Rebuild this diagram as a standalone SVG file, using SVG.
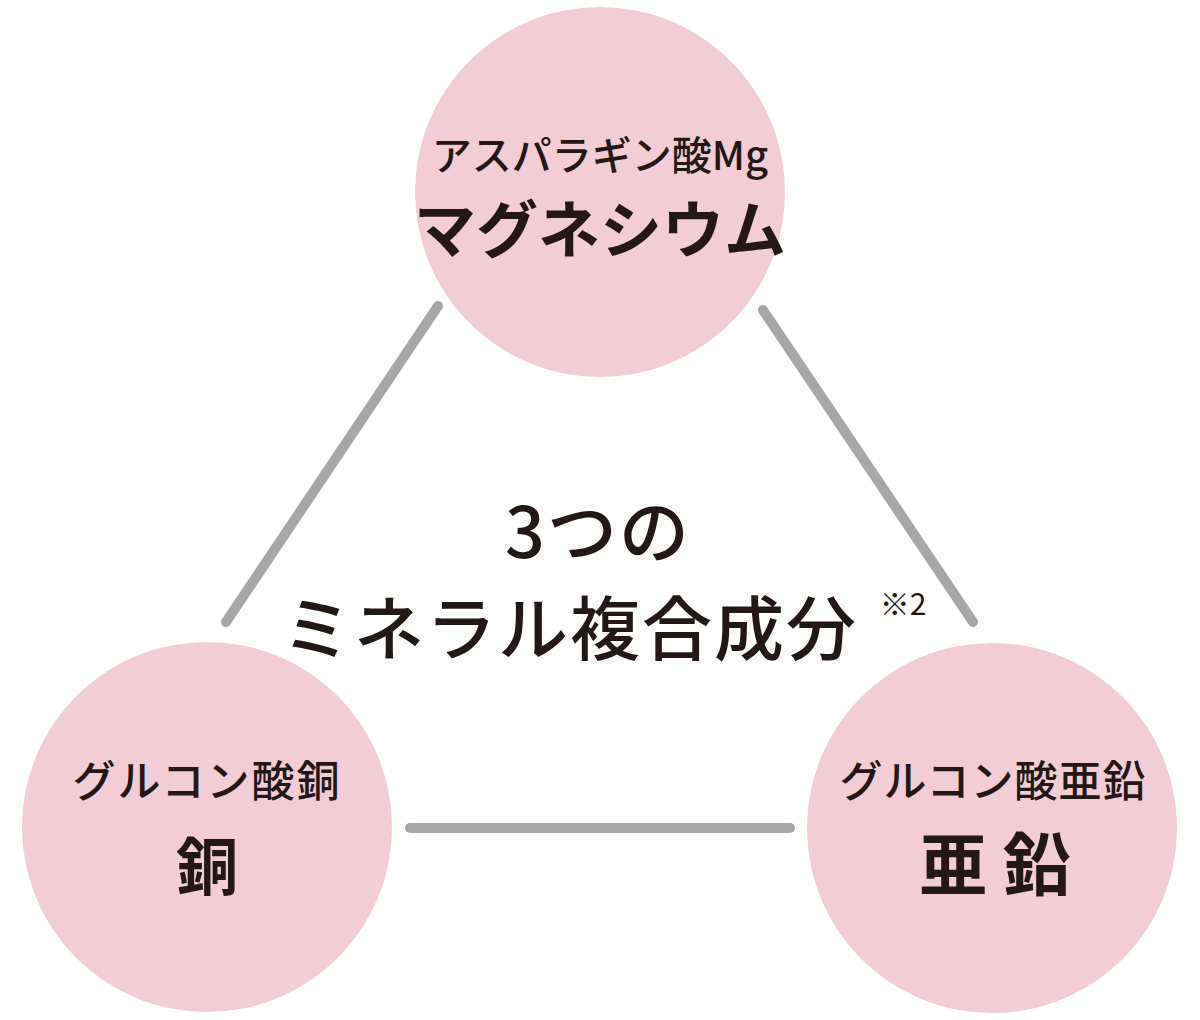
<svg xmlns="http://www.w3.org/2000/svg" width="1200" height="1020" viewBox="0 0 1200 1020">
<style>
.n{fill:#f2cdd6}
.c{stroke:#a7a7a7;stroke-width:10;stroke-linecap:round;fill:none}
text{font-family:"Noto Sans CJK JP","Noto Sans",sans-serif;fill:#231815;text-anchor:middle}
.s{font-size:43px;font-weight:500}
.b{font-size:62px;font-weight:700}
.m{font-size:70px;font-weight:500}
</style>
<rect width="1200" height="1020" fill="#fff"/>
<g id="connectors">
<line class="c" x1="438" y1="306" x2="226" y2="622"/>
<line class="c" x1="763" y1="310" x2="973" y2="622"/>
<line class="c" x1="410" y1="828" x2="790" y2="828"/>
</g>
<g id="mg"><circle class="n" cx="600" cy="192" r="185"/>
<text x="600" y="170" style="font-size:40px;font-weight:500">アスパラギン酸Mg</text>
<text class="b" x="600" y="253">マグネシウム</text></g>
<g id="cu"><circle class="n" cx="207" cy="827" r="185"/>
<text class="s" x="207" y="797" letter-spacing="2">グルコン酸銅</text>
<text class="b" x="207" y="890">銅</text></g>
<g id="zn"><circle class="n" cx="992" cy="828" r="185"/>
<text class="s" x="993" y="797" letter-spacing="1">グルコン酸亜鉛</text>
<text x="995" y="890" style="font-size:68px;font-weight:700">亜 鉛</text></g>
<g id="center">
<text class="m" x="598" y="558" letter-spacing="2">3つの</text>
<text class="m" x="570" y="655" letter-spacing="2">ミネラル複合成分</text>
<text x="903" y="615" style="font-size:30px">※2</text>
</g>
</svg>
